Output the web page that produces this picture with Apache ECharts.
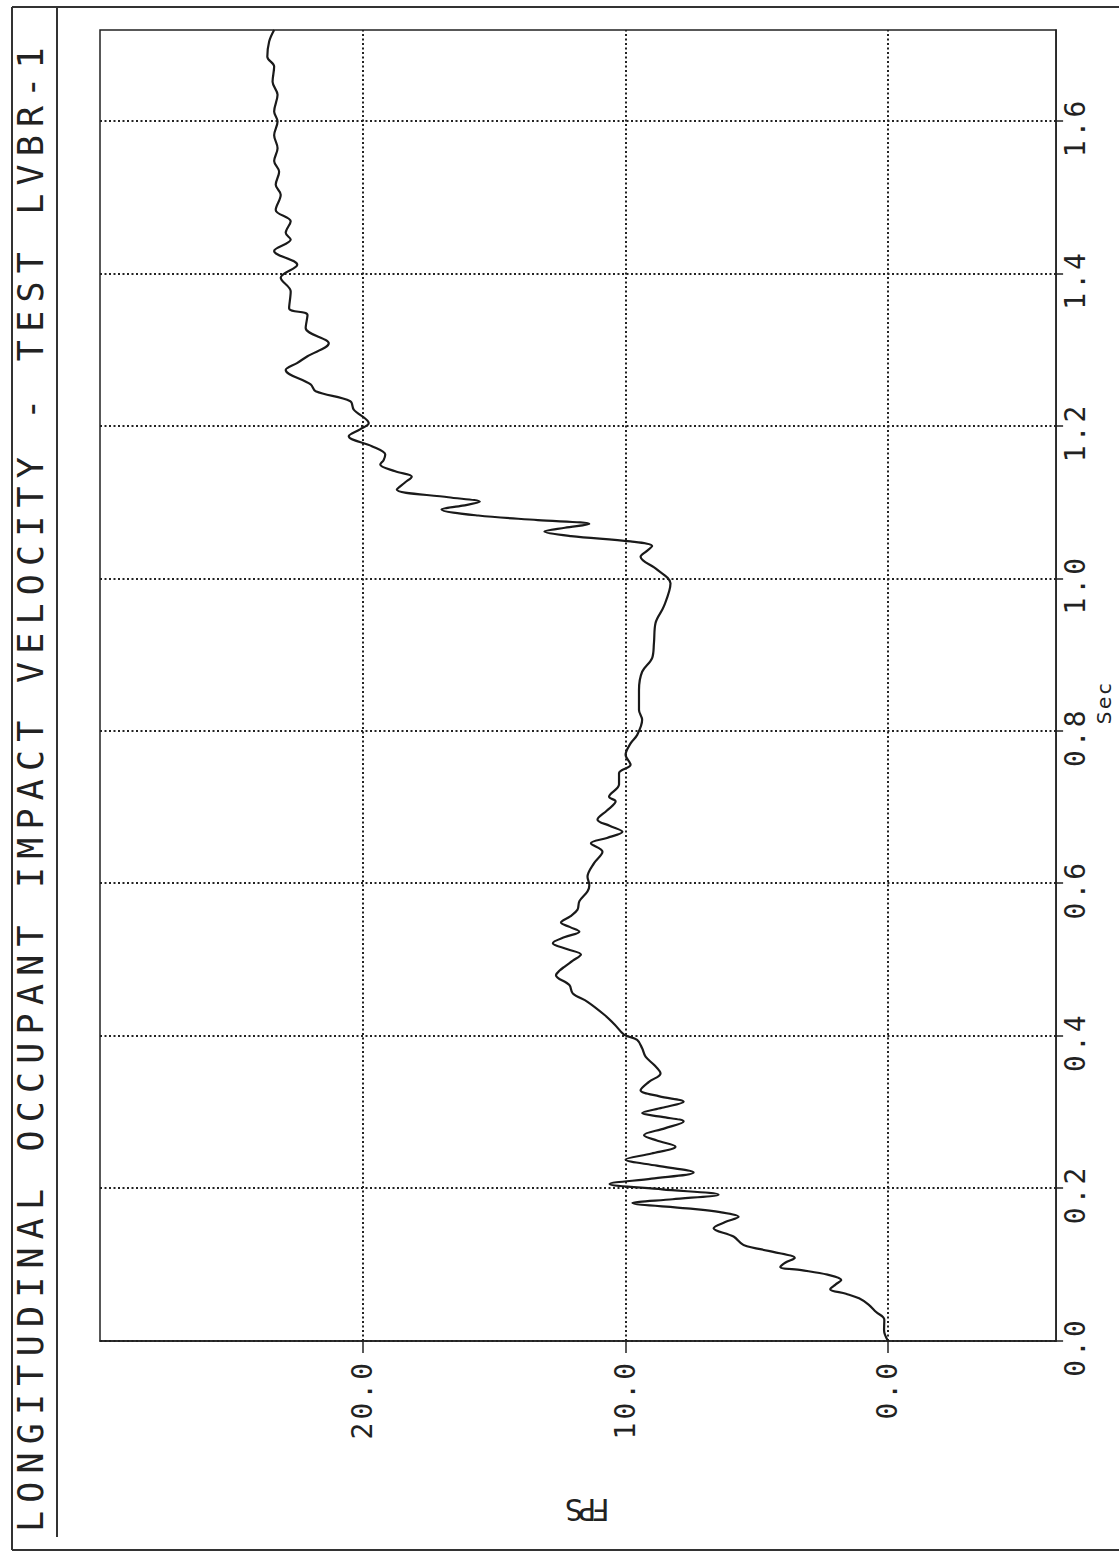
<!DOCTYPE html>
<html>
<head>
<meta charset="utf-8">
<script src="https://cdn.jsdelivr.net/npm/echarts@6/dist/echarts.min.js"></script>
<style>
html, body { margin: 0; padding: 0; width: 1119px; height: 1553px; overflow: hidden; background: #ffffff; }
#wrap { position: absolute; left: 0; top: 0; width: 1553px; height: 1119px; transform-origin: 0 0; transform: translateY(1553px) rotate(-90deg); }
#chart { width: 1553px; height: 1119px; }
#chart text[style*="35px"] { letter-spacing: 8.2px; }
#chart text[style*="28px"] { letter-spacing: 3px; }
#chart text[style*="20px"] { letter-spacing: 2.5px; }
#chart text[style*="30px"] { letter-spacing: -4.5px; }
</style>
</head>
<body>
<div id="wrap"><div id="chart"></div></div>
<script>
const titleText = 'LONGITUDINAL OCCUPANT IMPACT VELOCITY - TEST LVBR-1';
const xAxisName = 'Sec';
const yAxisName = 'FPS';
const timeTicks = [0, 0.2, 0.4, 0.6, 0.8, 1.0, 1.2, 1.4, 1.6];
const fpsTicks = [0, 10, 20];

const timeSec = [
  0.000, 0.014, 0.028, 0.038, 0.048, 0.056, 0.062, 0.068, 0.074, 0.080,
  0.087, 0.093, 0.097, 0.103, 0.109, 0.117, 0.126, 0.137, 0.148, 0.156,
  0.163, 0.169, 0.174, 0.181, 0.186, 0.192, 0.199, 0.206, 0.213, 0.221,
  0.230, 0.238, 0.246, 0.255, 0.263, 0.270, 0.279, 0.288, 0.294, 0.299,
  0.306, 0.314, 0.321, 0.329, 0.340, 0.351, 0.362, 0.373, 0.384, 0.395,
  0.402, 0.415, 0.428, 0.445, 0.456, 0.467, 0.480, 0.486, 0.491, 0.499,
  0.507, 0.514, 0.522, 0.530, 0.537, 0.543, 0.549, 0.557, 0.566, 0.577,
  0.590, 0.598, 0.609, 0.627, 0.642, 0.653, 0.660, 0.668, 0.676, 0.684,
  0.696, 0.708, 0.714, 0.730, 0.745, 0.756, 0.769, 0.784, 0.795, 0.815,
  0.828, 0.854, 0.878, 0.896, 0.916, 0.942, 0.964, 0.994, 1.012, 1.029,
  1.036, 1.043, 1.049, 1.056, 1.062, 1.067, 1.072, 1.077, 1.083, 1.091,
  1.096, 1.101, 1.107, 1.117, 1.126, 1.134, 1.141, 1.150, 1.156, 1.163,
  1.174, 1.187, 1.196, 1.204, 1.222, 1.233, 1.246, 1.255, 1.274, 1.283,
  1.292, 1.309, 1.329, 1.346, 1.355, 1.377, 1.395, 1.412, 1.430, 1.445,
  1.454, 1.469, 1.484, 1.504, 1.517, 1.534, 1.548, 1.565, 1.582, 1.600,
  1.613, 1.635, 1.652, 1.672, 1.685, 1.705, 1.720
];
const velocityFps = [
  0.00, 0.15, 0.14, 0.45, 0.75, 1.10, 1.60, 2.20, 2.00, 1.78,
  2.30, 3.30, 4.10, 3.90, 3.55, 4.37, 5.50, 5.88, 6.64, 6.20,
  5.69, 6.39, 7.65, 9.73, 8.20, 6.45, 8.60, 10.60, 9.00, 7.40,
  8.80, 9.99, 9.00, 8.09, 8.80, 9.29, 8.50, 7.78, 8.60, 9.36,
  8.60, 7.78, 8.70, 9.42, 9.10, 8.66, 8.90, 9.23, 9.36, 9.55,
  10.05, 10.40, 10.80, 11.44, 12.00, 12.13, 12.64, 12.50, 12.32, 12.00,
  11.69, 12.20, 12.76, 12.30, 11.75, 12.10, 12.45, 12.10, 11.82, 11.75,
  11.44, 11.37, 11.44, 11.19, 10.87, 11.31, 10.70, 10.11, 10.60, 11.06,
  10.70, 10.37, 10.62, 10.24, 10.24, 9.80, 9.99, 9.80, 9.55, 9.36,
  9.48, 9.48, 9.36, 8.98, 8.91, 8.85, 8.53, 8.28, 8.79, 9.42,
  9.20, 8.98, 9.80, 12.07, 13.08, 12.30, 11.37, 13.33, 15.60, 17.00,
  16.20, 15.54, 16.74, 18.70, 18.40, 18.13, 18.76, 19.33, 19.20, 19.14,
  19.65, 20.53, 20.10, 19.77, 20.34, 20.47, 21.79, 21.98, 22.93, 22.50,
  22.10, 21.29, 22.17, 22.10, 22.80, 22.74, 23.12, 22.49, 23.37, 22.74,
  22.93, 22.74, 23.31, 23.12, 23.31, 23.18, 23.37, 23.24, 23.37, 23.24,
  23.37, 23.24, 23.43, 23.37, 23.63, 23.56, 23.37
];

const seriesData = timeSec.map((t, i) => [t, velocityFps[i]]);

const FONT = "'DejaVu Sans Mono', monospace";
const INK = '#222222';

const chart = echarts.init(document.getElementById('chart'), null, { renderer: 'svg' });
chart.setOption({
  animation: false,
  backgroundColor: '#ffffff',
  title: {
    text: titleText,
    left: 21,
    top: 13,
    padding: 0,
    textStyle: { fontFamily: FONT, fontSize: 35, fontWeight: 'normal', color: INK }
  },
  graphic: [
    { type: 'line', shape: { x1: 3, y1: 12, x2: 1546, y2: 12 }, style: { stroke: '#333', lineWidth: 2 } },
    { type: 'line', shape: { x1: 16, y1: 57, x2: 1546, y2: 57 }, style: { stroke: '#333', lineWidth: 2 } },
    { type: 'line', shape: { x1: 1546, y1: 12, x2: 1546, y2: 1119 }, style: { stroke: '#333', lineWidth: 2 } },
    { type: 'line', shape: { x1: 3, y1: 12, x2: 3, y2: 1119 }, style: { stroke: '#333', lineWidth: 2 } }
  ],
  grid: {
    left: 212, right: 30, top: 100, bottom: 58,
    show: true, borderColor: INK, borderWidth: 1.5, backgroundColor: 'transparent'
  },
  xAxis: {
    type: 'value',
    min: 0, max: 1.72, interval: 0.2,
    name: xAxisName,
    nameLocation: 'middle',
    nameGap: 31,
    nameTextStyle: { fontFamily: "'DejaVu Sans', sans-serif", fontSize: 20, color: INK, padding: [0, 34, 0, 0] },
    axisLine: { show: true, onZero: false, lineStyle: { color: INK, width: 1.5 } },
    axisTick: { show: true, customValues: timeTicks, length: 7, lineStyle: { color: INK, width: 1.5 } },
    axisLabel: {
      customValues: timeTicks, margin: 5,
      fontFamily: FONT, fontSize: 28, color: INK,
      padding: [0, 12, 0, 0],
      formatter: v => Number(v).toFixed(1)
    },
    splitLine: { show: true, lineStyle: { color: '#222', width: 2, type: [2, 2.5] } }
  },
  yAxis: {
    type: 'value',
    min: -6.4, max: 30,
    name: yAxisName,
    nameLocation: 'middle',
    nameRotate: 90,
    nameGap: 153,
    nameTextStyle: { fontFamily: FONT, fontSize: 30, color: INK, padding: [0, 23, 0, 0] },
    axisLine: { show: true, onZero: false, lineStyle: { color: INK, width: 1.5 } },
    axisTick: { show: true, customValues: fpsTicks, length: 12, lineStyle: { color: INK, width: 1.5 } },
    axisLabel: {
      customValues: fpsTicks, margin: 19,
      fontFamily: FONT, fontSize: 28, color: INK,
      formatter: v => Number(v).toFixed(1)
    },
    splitLine: { show: true, lineStyle: { color: '#222', width: 2, type: [2, 2.5] } }
  },
  series: [{
    type: 'line',
    data: seriesData,
    showSymbol: false,
    symbol: 'none',
    smooth: 0.35,
    lineStyle: { color: '#1a1a1a', width: 2.2 },
    silent: true
  }]
});
</script>
</body>
</html>
